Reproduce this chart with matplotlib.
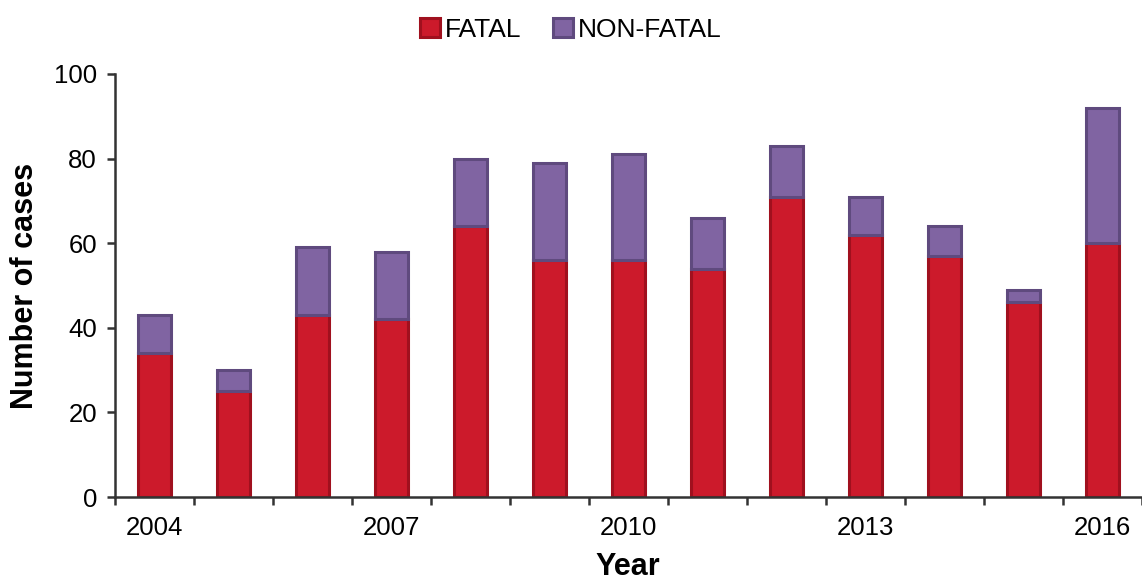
import numpy as np
import matplotlib
matplotlib.use("Agg")
import matplotlib.pyplot as plt

plt.rcParams['font.family'] = ['Liberation Sans', 'DejaVu Sans']

# data
years = ['2004', '2005', '2006', '2007', '2008', '2009', '2010',
         '2011', '2012', '2013', '2014', '2015', '2016']
fatal = [34, 25, 43, 42, 64, 56, 56, 54, 71, 62, 57, 46, 60]
total = [43, 30, 59, 58, 80, 79, 81, 66, 83, 71, 64, 49, 92]
non_fatal = [t - f for t, f in zip(total, fatal)]
label_years = ['2004', '2007', '2010', '2013', '2016']

fig = plt.figure(figsize=(11.42, 5.82), dpi=100)
ax = fig.add_axes([0.1007, 0.146, 0.8993, 0.727])

x = np.arange(len(years))
w = 0.43
ax.bar(x, fatal, w, color='#cc1a2b', edgecolor='#a0101e', linewidth=2.2,
       label='FATAL', zorder=2)
ax.bar(x, non_fatal, w, bottom=fatal, color='#8064a2', edgecolor='#5f4a7e',
       linewidth=2.2, label='NON-FATAL', zorder=2)

ax.set_xlim(-0.5, 12.47)
ax.set_ylim(0, 100)
ax.set_yticks([0, 20, 40, 60, 80, 100])
ax.tick_params(axis='y', labelsize=18.5, length=6, width=1.8, color='#333333',
               direction='out', pad=7)

# tick marks at category boundaries, labels at every third year
ax.set_xticks(np.arange(-0.5, len(years), 1.0))
ax.set_xticklabels([])
ax.tick_params(axis='x', length=6, width=1.8, color='#333333', direction='out')
for i, yr in enumerate(years):
    if yr in label_years:
        ax.text(i, -4.6, yr, ha='center', va='top', fontsize=18.5)

for s in ['top', 'right']:
    ax.spines[s].set_visible(False)
for s in ['left', 'bottom']:
    ax.spines[s].set_linewidth(1.8)
    ax.spines[s].set_color('#333333')

ax.set_ylabel('Number of cases', fontsize=22, fontweight='bold', labelpad=10)
fig.text(0.55, 0.0, 'Year', ha='center', va='bottom',
         fontsize=22, fontweight='bold')

fig.legend(loc='upper center', bbox_to_anchor=(0.5, 1.01), ncol=2, frameon=False,
           fontsize=19, handlelength=0.75, handleheight=0.75, handletextpad=0.2,
           columnspacing=1.2)

fig.savefig('out.png', dpi=100)
